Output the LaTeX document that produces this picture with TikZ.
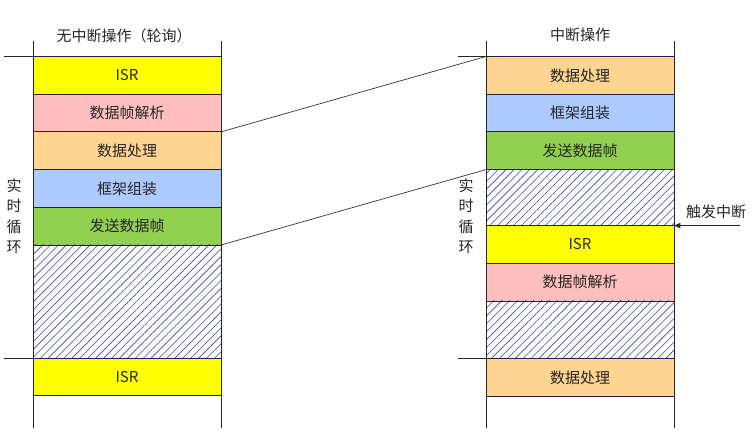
\documentclass[tikz,border=0pt]{standalone}
\usepackage{fontspec}
\newfontfamily\cjk{Noto Sans CJK SC}
\usepackage{xcolor}
\usetikzlibrary{arrows.meta, positioning, patterns.meta, calc}
\definecolor{edge}{HTML}{1F2147}
\definecolor{hatch}{HTML}{3A45B0}
\definecolor{isrC}{HTML}{FFFF00}
\definecolor{parseC}{HTML}{FFBFBF}
\definecolor{procC}{HTML}{FFD591}
\definecolor{packC}{HTML}{ADCBFF}
\definecolor{sendC}{HTML}{92D050}

\begin{document}
\begin{tikzpicture}[node distance=0pt, x=1pt, y=-1pt]
\tikzset{
  blk/.style={rectangle,draw=edge,line width=0.9pt,minimum width=188pt,minimum height=37.7pt,inner sep=0pt,outer sep=0pt,font=\cjk\fontsize{15}{17}\selectfont,text=black!85},
  isr/.style={blk,fill=isrC},
  parse/.style={blk,fill=parseC},
  proc/.style={blk,fill=procC},
  pack/.style={blk,fill=packC},
  send/.style={blk,fill=sendC},
  idle/.style={blk,pattern={Lines[angle=45,distance=5.6pt,line width=0.6pt]},pattern color=hatch},
  frame/.style={draw=black!85,line width=0.8pt},
  link/.style={draw=black!80,line width=0.7pt},
  ar/.style={-{Triangle[length=2.2mm,width=1.8mm]},draw=black!85,line width=0.8pt},
  lab/.style={font=\cjk\fontsize{15}{17}\selectfont,text=black!85,inner sep=1pt},
  vlab/.style={lab,align=center,font=\cjk\fontsize{15}{20.5}\selectfont}
}
\useasboundingbox (0,0) rectangle (753,446);
\coordinate (top) at (0,41);
\coordinate (bot) at (0,428);
% ---- polling (left)
\node[isr,anchor=north] (isrL) at (127,56.5) {ISR};
\node[parse,below=of isrL] (parseL) {数据帧解析};
\node[proc,below=of parseL] (procL) {数据处理};
\node[pack,below=of procL] (packL) {框架组装};
\node[send,below=of packL] (sendL) {发送数据帧};
\node[idle,below=of sendL,minimum height=113.1pt] (idleL) {};
\node[isr,below=of idleL] (isrL2) {ISR};
% ---- interrupt (right)
\node[proc,anchor=north] (procR) at (580,56.5) {数据处理};
\node[pack,below=of procR] (packR) {框架组装};
\node[send,below=of packR] (sendR) {发送数据帧};
\node[idle,below=of sendR,minimum height=56pt] (idleR) {};
\node[isr,below=of idleR] (isrR) {ISR};
\node[parse,below=of isrR] (parseR) {数据帧解析};
\node[idle,below=of parseR,minimum height=57.9pt] (idleR2) {};
\node[proc,below=of idleR2] (procR2) {数据处理};
% ---- frames
\draw[frame] (isrL.north west |- top) -- (isrL.north west |- bot);
\draw[frame] (isrL.north east |- top) -- (isrL.north east |- bot);
\draw[frame] (procR.north west |- top) -- (procR.north west |- bot);
\draw[frame] (procR.north east |- top) -- (procR.north east |- bot);
\draw[frame] (isrL.north west) -- ++(-29,0);
\draw[frame] (isrL2.north west) -- ++(-29,0);
\draw[frame] (procR.north west) -- ++(-28,0);
\draw[frame] (procR2.north west) -- ++(-28,0);
% ---- labels
\node[lab] (titleL) at (124,36) {无中断操作（轮询）};
\node[lab] (titleR) at (580,35) {中断操作};
\node[vlab] (loopL) at (14,216) {实\\时\\循\\环};
\node[vlab] (loopR) at (466,216) {实\\时\\循\\环};
% ---- links
\draw[link] (parseL.south east) -- (procR.north west);
\draw[link] (sendL.south east) -- (sendR.south west);
\coordinate[right=66pt of isrR.north east] (trig);
\draw[ar] (trig) -- (isrR.north east);
\node[lab] (trigtxt) at (716,212) {触发中断};
\end{tikzpicture}
\end{document}
